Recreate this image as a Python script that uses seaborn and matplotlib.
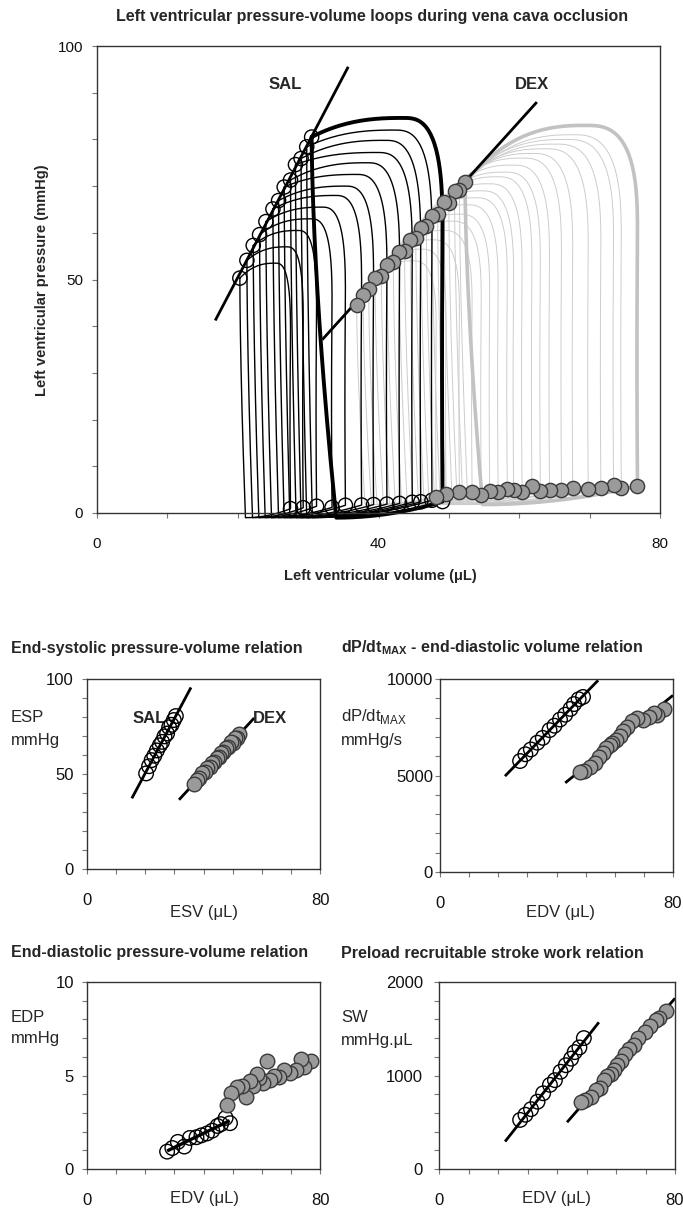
import numpy as np
import pandas as pd
import seaborn as sns
import matplotlib.pyplot as plt

# ---- beat-by-beat values (baseline beat first) ----
# saline (SAL)
sal_esv = [30.5, 29.8, 29.0, 28.2, 27.5, 26.6, 25.8, 25.0, 24.0, 23.1, 22.2, 21.3, 20.3]
sal_esp = [80.5, 78.4, 75.9, 74.6, 71.3, 69.8, 66.9, 65.1, 62.4, 59.6, 57.3, 54.1, 50.3]
sal_edv = [49.1, 47.6, 46.0, 44.8, 43.0, 41.2, 39.3, 37.6, 35.3, 33.4, 31.2, 29.3, 27.5]
sal_edp = [2.45, 2.73, 2.40, 2.30, 2.05, 1.90, 1.80, 1.70, 1.66, 1.20, 1.45, 1.12, 0.93]
sal_pmax = [84.6, 82.0, 79.8, 77.2, 75.0, 72.5, 70.0, 68.0, 65.5, 63.0, 60.5, 57.0, 53.5]
sal_dpdt = [9070, 8950, 8700, 8450, 8150, 7900, 7580, 7350, 6950, 6700, 6350, 6100, 5750]
sal_sw = [1400, 1300, 1250, 1180, 1110, 1040, 950, 900, 810, 720, 640, 580, 525]

# dexamethasone (DEX)
dex_esv = [52.3, 51.5, 50.8, 50.0, 49.3, 48.4, 47.6, 46.8, 46.0, 45.3,
           44.5, 43.7, 42.9, 42.1, 41.2, 40.4, 39.5, 38.6, 37.8, 36.9]
dex_esp = [70.8, 69.2, 69.0, 66.4, 66.6, 64.0, 63.5, 61.4, 61.0, 58.9,
           58.5, 56.2, 55.9, 53.7, 53.2, 50.8, 50.3, 48.0, 46.6, 44.5]
dex_edv = [76.8, 74.5, 73.4, 71.6, 69.8, 67.6, 66.0, 64.3, 63.0, 61.8,
           60.4, 59.2, 58.3, 57.0, 55.8, 54.6, 53.3, 51.5, 49.6, 48.2]
dex_edp = [5.75, 5.45, 5.90, 5.30, 5.15, 5.30, 4.90, 4.95, 4.75, 5.80,
           4.60, 4.85, 5.10, 4.45, 4.70, 3.85, 4.45, 4.40, 4.05, 3.40]
dex_pmax = [83.0, 81.0, 80.0, 79.0, 78.0, 77.0, 76.0, 74.5, 73.0, 72.0,
            70.5, 69.0, 67.5, 66.0, 64.0, 62.5, 60.5, 58.5, 56.5, 54.0]
dex_dpdt = [8450, 8150, 8230, 8050, 7870, 7960, 7800, 7500, 7300, 7050,
            6850, 6700, 6600, 6400, 6150, 5950, 5650, 5450, 5250, 5200]
dex_sw = [1690, 1620, 1590, 1530, 1460, 1400, 1330, 1280, 1230, 1150,
          1110, 1060, 1020, 990, 950, 870, 840, 770, 740, 720]

# extents of the drawn regression lines (volume, uL)
fit_range = {
    'loops_sal': (16.8, 35.7), 'loops_dex': (32.0, 62.5),
    'espvr_sal': (15.4, 35.7), 'espvr_dex': (31.6, 57.4),
    'dpdt_sal': (22.3, 54.3), 'dpdt_dex': (43.0, 80.0),
    'edpvr_sal': (27.5, 49.0), 'edpvr_dex': (48.1, 78.3),
    'prsw_sal': (22.4, 54.2), 'prsw_dex': (43.4, 80.0),
}

W, H = 683, 1216
sns.set_theme(style='white')
plt.rcParams['font.family'] = ['Liberation Sans', 'DejaVu Sans']
plt.rcParams['mathtext.fontset'] = 'custom'
plt.rcParams['mathtext.rm'] = 'Liberation Sans'
plt.rcParams['mathtext.bf'] = 'Liberation Sans:bold'

fig = plt.figure(figsize=(W / 100, H / 100), dpi=100)


def box(l, t, r, b):
    return [l / W, 1 - b / H, (r - l) / W, (b - t) / H]


def ftext(x, y, s, **kw):
    fig.text(x / W, 1 - y / H, s, va='center', **kw)


def pv_loop(esv, esp, edv, edp, pmax, lean, pmin):
    t = np.linspace(0, 1, 40)
    # isovolumic relaxation
    v1 = esv + lean * t ** 1.6
    p1 = esp + (pmin - esp) * t
    # filling
    v2 = esv + lean + (edv - esv - lean) * t
    p2 = pmin + (edp - pmin) * t ** 2
    # isovolumic contraction
    rx, ry = 0.3 * (edv - esv), 0.3 * (pmax - edp)
    vpk = edv - rx
    v3 = edv - 0.3 * t * (1 - t)
    p3 = edp + (pmax - ry - edp) * t
    # rounded shoulder
    th = np.linspace(0, np.pi / 2, 40)
    v4 = vpk + rx * np.cos(th) ** 0.7
    p4 = pmax - ry + ry * np.sin(th) ** 0.7
    # ejection back to end-systole
    v5 = vpk + (esv - vpk) * t
    p5 = pmax + (esp - pmax) * t ** 2.5
    return np.concatenate([v1, v2, v3, v4, v5]), np.concatenate([p1, p2, p3, p4, p5])


def style_axes(ax, xmax, ymax, ystep, ylabels, ypad, xpad=14, size=11):
    ax.set_xlim(0, xmax)
    ax.set_ylim(0, ymax)
    ax.set_xticks(np.arange(0, xmax + 1, 10))
    ax.set_xticklabels(['0' if v == 0 else (str(xmax) if v == xmax else '')
                        for v in np.arange(0, xmax + 1, 10)])
    yt = np.arange(0, ymax + ystep / 2, ystep)
    ax.set_yticks(yt)
    ax.set_yticklabels([str(int(v)) if v in ylabels else '' for v in yt])
    ax.tick_params(axis='both', direction='out', length=3.5, width=0.8,
                   color='#777777', labelsize=size, labelcolor='#111111')
    ax.tick_params(axis='x', pad=xpad, bottom=True)
    ax.tick_params(axis='y', pad=ypad, left=True)
    for sp in ax.spines.values():
        sp.set_color('#333333')
        sp.set_linewidth(1.0)
        sp.set_visible(True)
    ax.set_xlabel('')
    ax.set_ylabel('')
    ax.grid(False)


def fit_line(ax, x, y, key, lw=2.0):
    k, b = np.polyfit(x, y, 1)
    xs = np.array(fit_range[key])
    sns.lineplot(x=xs, y=k * xs + b, color='black', lw=lw, ax=ax,
                 solid_capstyle='butt')


def dots(ax, x, y, group, s):
    if group == 'SAL':
        sns.scatterplot(x=x, y=y, ax=ax, s=s, facecolor='none',
                        edgecolor='black', linewidth=1.0, zorder=5)
    else:
        sns.scatterplot(x=x, y=y, ax=ax, s=s, color='#9a9a9a',
                        edgecolor='#3a3a3a', linewidth=1.0, zorder=5)


# ---- loop table ----
frames = []
for i in range(len(sal_esv)):
    v, p = pv_loop(sal_esv[i], sal_esp[i], sal_edv[i], sal_edp[i], sal_pmax[i],
                   3.5 if i == 0 else 0.8, -1.0)
    frames.append(pd.DataFrame({'vol': v, 'pressure': p, 'beat': i, 'group': 'SAL'}))
for i in range(len(dex_esv)):
    v, p = pv_loop(dex_esv[i], dex_esp[i], dex_edv[i], dex_edp[i], dex_pmax[i],
                   2.5 if i == 0 else 1.2, 1.8)
    frames.append(pd.DataFrame({'vol': v, 'pressure': p, 'beat': i, 'group': 'DEX'}))
loops = pd.concat(frames, ignore_index=True)

# ---- top panel: PV loops ----
ax0 = fig.add_axes(box(97, 46, 660, 513))
dex = loops[loops.group == 'DEX']
sal = loops[loops.group == 'SAL']
sns.lineplot(data=dex[dex.beat > 0], x='vol', y='pressure', units='beat',
             estimator=None, sort=False, color='#cccccc', lw=0.7, ax=ax0, clip_on=False)
sns.lineplot(data=dex[dex.beat == 0], x='vol', y='pressure', estimator=None,
             sort=False, color='#c2c2c2', lw=2.6, ax=ax0, clip_on=False)
sns.lineplot(data=sal[sal.beat > 0], x='vol', y='pressure', units='beat',
             estimator=None, sort=False, color='black', lw=1.0, ax=ax0, clip_on=False)
sns.lineplot(data=sal[sal.beat == 0], x='vol', y='pressure', estimator=None,
             sort=False, color='black', lw=2.8, ax=ax0, clip_on=False)
fit_line(ax0, sal_esv, sal_esp, 'loops_sal')
fit_line(ax0, dex_esv, dex_esp, 'loops_dex')
dots(ax0, sal_esv, sal_esp, 'SAL', 105)
dots(ax0, sal_edv, sal_edp, 'SAL', 105)
dots(ax0, dex_esv, dex_esp, 'DEX', 105)
dots(ax0, dex_edv, dex_edp, 'DEX', 105)
for c in ax0.collections:
    c.set_clip_on(False)
style_axes(ax0, 80, 100, 10, [0, 50, 100], ypad=6.5, xpad=14)
ax0.set_xticklabels(['0', '', '', '', '40', '', '', '', '80'])
ax0.text(26.8, 91.8, 'SAL', fontsize=12, fontweight='bold', ha='center', va='center')
ax0.text(61.8, 91.8, 'DEX', fontsize=12, fontweight='bold', ha='center', va='center')

ftext(372, 16, 'Left ventricular pressure-volume loops during vena cava occlusion',
      ha='center', fontsize=11.5, fontweight='bold')
ftext(380, 576, 'Left ventricular volume (\u03bcL)', ha='center', fontsize=10.5,
      fontweight='bold')
fig.text(42 / W, 1 - 280 / H, 'Left ventricular pressure (mmHg)', rotation=90,
         ha='center', va='center', fontsize=10.5, fontweight='bold')

# ---- ESPVR ----
ax1 = fig.add_axes(box(87, 679, 320, 869))
fit_line(ax1, sal_esv, sal_esp, 'espvr_sal')
fit_line(ax1, dex_esv, dex_esp, 'espvr_dex')
dots(ax1, sal_esv, sal_esp, 'SAL', 110)
dots(ax1, dex_esv, dex_esp, 'DEX', 110)
style_axes(ax1, 80, 100, 10, [0, 50, 100], ypad=6, size=12)
ax1.text(21.5, 79.0, 'SAL', fontsize=12, fontweight='bold', ha='center', va='center')
ax1.text(63.0, 79.0, 'DEX', fontsize=12, fontweight='bold', ha='center', va='center')
ftext(11, 648, 'End-systolic pressure-volume relation', ha='left', fontsize=11.5,
      fontweight='bold')
ftext(11, 718, 'ESP', ha='left', fontsize=12)
ftext(11, 740, 'mmHg', ha='left', fontsize=12)
ftext(204, 912, 'ESV (\u03bcL)', ha='center', fontsize=12)

# ---- dP/dtmax - EDV ----
ax2 = fig.add_axes(box(440, 679, 673, 872))
fit_line(ax2, sal_edv, sal_dpdt, 'dpdt_sal')
fit_line(ax2, dex_edv, dex_dpdt, 'dpdt_dex')
dots(ax2, sal_edv, sal_dpdt, 'SAL', 110)
dots(ax2, dex_edv, dex_dpdt, 'DEX', 110)
style_axes(ax2, 80, 10000, 1000, [0, 5000, 10000], ypad=1.5, size=12)
ftext(341, 648, r'dP/dt$_{\mathbf{MAX}}$ - end-diastolic volume relation', ha='left',
      fontsize=11.5, fontweight='bold')
ftext(341, 717, r'dP/dt$_{\mathrm{MAX}}$', ha='left', fontsize=12)
ftext(341, 740, 'mmHg/s', ha='left', fontsize=12)
ftext(560, 912, 'EDV (\u03bcL)', ha='center', fontsize=12)

# ---- EDPVR ----
ax3 = fig.add_axes(box(87, 982, 320, 1169))
fit_line(ax3, sal_edv, sal_edp, 'edpvr_sal', lw=2.4)
fit_line(ax3, dex_edv, dex_edp, 'edpvr_dex', lw=2.4)
dots(ax3, sal_edv, sal_edp, 'SAL', 110)
dots(ax3, dex_edv, dex_edp, 'DEX', 110)
style_axes(ax3, 80, 10, 1, [0, 5, 10], ypad=6, size=12)
ftext(11, 953, 'End-diastolic pressure-volume relation', ha='left', fontsize=11.5,
      fontweight='bold')
ftext(11, 1018, 'EDP', ha='left', fontsize=12)
ftext(11, 1039, 'mmHg', ha='left', fontsize=12)
ftext(204, 1198, 'EDV (\u03bcL)', ha='center', fontsize=12)

# ---- PRSW ----
ax4 = fig.add_axes(box(439, 982, 675, 1169))
fit_line(ax4, sal_edv, sal_sw, 'prsw_sal')
fit_line(ax4, dex_edv, dex_sw, 'prsw_dex')
dots(ax4, sal_edv, sal_sw, 'SAL', 110)
dots(ax4, dex_edv, dex_sw, 'DEX', 110)
style_axes(ax4, 80, 2000, 200, [0, 1000, 2000], ypad=8, size=12)
ftext(341, 953, 'Preload recruitable stroke work relation', ha='left', fontsize=11.5,
      fontweight='bold')
ftext(341, 1018, 'SW', ha='left', fontsize=12)
ftext(341, 1040, 'mmHg.\u03bcL', ha='left', fontsize=12)
ftext(557, 1198, 'EDV (\u03bcL)', ha='center', fontsize=12)

fig.savefig('out.png', dpi=100)
